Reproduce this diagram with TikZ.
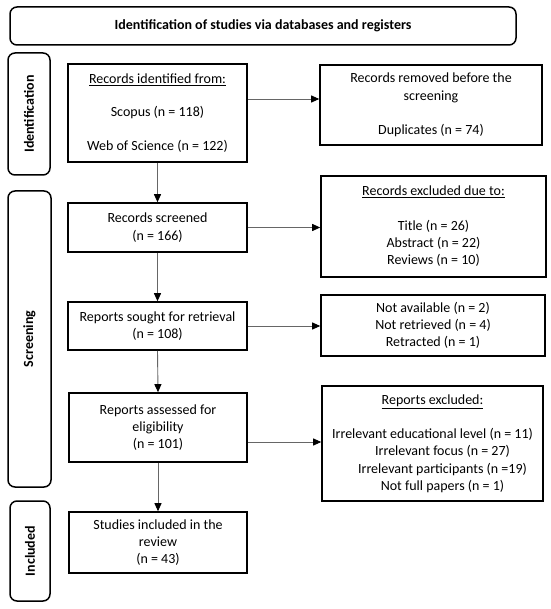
\documentclass[tikz,border=0pt]{standalone}
\usepackage{fontspec}
\setmainfont{Carlito}
\usetikzlibrary{arrows.meta}
\begin{document}
\begin{tikzpicture}[x=1pt,y=-1pt,
  txt/.style={font=\fontsize{14}{17.3}\selectfont},
  flowbox/.style={draw=black, line width=1.6pt, align=center, inner sep=0pt, txt},
  sidebar/.style={draw=black, line width=1.5pt, rounded corners=7pt, rotate=90, inner sep=0pt, font=\fontsize{14}{17}\selectfont\bfseries},
  arr/.style={draw=black!60, line width=0.9pt, -{Triangle[length=8pt,width=7pt,color=black]}}
]
\useasboundingbox (0,0) rectangle (550,609);
\fill[white] (0,0) rectangle (550,609);

\node[draw=black, line width=1.5pt, rounded corners=7pt, minimum width=506pt, minimum height=38pt, inner sep=0pt, font=\fontsize{14}{17}\selectfont\bfseries] (banner) at (263,26) {Identification of studies via databases and registers};

\node[sidebar, minimum width=122pt, minimum height=42pt] (sid) at (29,114) {Identification};
\node[sidebar, minimum width=296pt, minimum height=43pt] (sscr) at (29.5,339) {Screening};
\node[sidebar, minimum width=100pt, minimum height=40pt] (sinc) at (30,551) {Included};

\node[flowbox, minimum width=179pt, minimum height=98pt] (ident) at (157.5,113)
  {\underline{Records identified from:}\\[16pt] Scopus (n = 118)\\[16pt] Web of Science (n = 122)};
\node[flowbox, minimum width=222pt, minimum height=80pt] (removed) at (431,105)
  {Records removed before the\\ screening\\[17pt] Duplicates (n = 74)};
\node[flowbox, minimum width=179pt, minimum height=49pt] (screened) at (157.5,227.5)
  {Records screened\\ (n = 166)};
\node[flowbox, minimum width=225pt, minimum height=101pt] (excluded) at (433.5,226.5)
  {\underline{Records excluded due to:}\\[17pt] Title (n = 26)\\ Abstract (n = 22)\\ Reviews (n = 10)};
\node[flowbox, minimum width=179pt, minimum height=48pt] (sought) at (157.5,326)
  {Reports sought for retrieval\\ (n = 108)};
\node[flowbox, minimum width=224pt, minimum height=61pt] (notavail) at (433,325.5)
  {Not available (n = 2)\\ Not retrieved (n = 4)\\ Retracted (n = 1)};
\node[flowbox, minimum width=178pt, minimum height=69pt] (assessed) at (158,427.5)
  {Reports assessed for\\ eligibility\\ (n = 101)};
\node[flowbox, minimum width=221pt, minimum height=115pt] (repexcl) at (432.5,443.5)
  {\underline{Reports excluded:}\\[17pt] Irrelevant educational level (n = 11)\\ \hspace*{20pt}Irrelevant focus (n = 27)\\ \hspace*{20pt}Irrelevant participants (n =19)\\ \hspace*{20pt}Not full papers (n = 1)};
\node[flowbox, minimum width=178pt, minimum height=61pt] (included) at (158,542.5)
  {Studies included in the\\ review\\ (n = 43)};

\draw[arr] ([yshift=14pt]ident.east) -- ([yshift=14pt]ident.east -| removed.west);
\draw[arr] (screened.east) -- (screened.east -| excluded.west);
\draw[arr] (sought.east) -- (sought.east -| notavail.west);
\draw[arr] ([yshift=-14.5pt]assessed.east) -- ([yshift=-14.5pt]assessed.east -| repexcl.west);

\draw[arr] (ident.south) -- (screened.north);
\draw[arr] (screened.south) -- (sought.north);
\draw[arr] (sought.south) -- (assessed.north);
\draw[arr] (assessed.south) -- (included.north);
\end{tikzpicture}
\end{document}
